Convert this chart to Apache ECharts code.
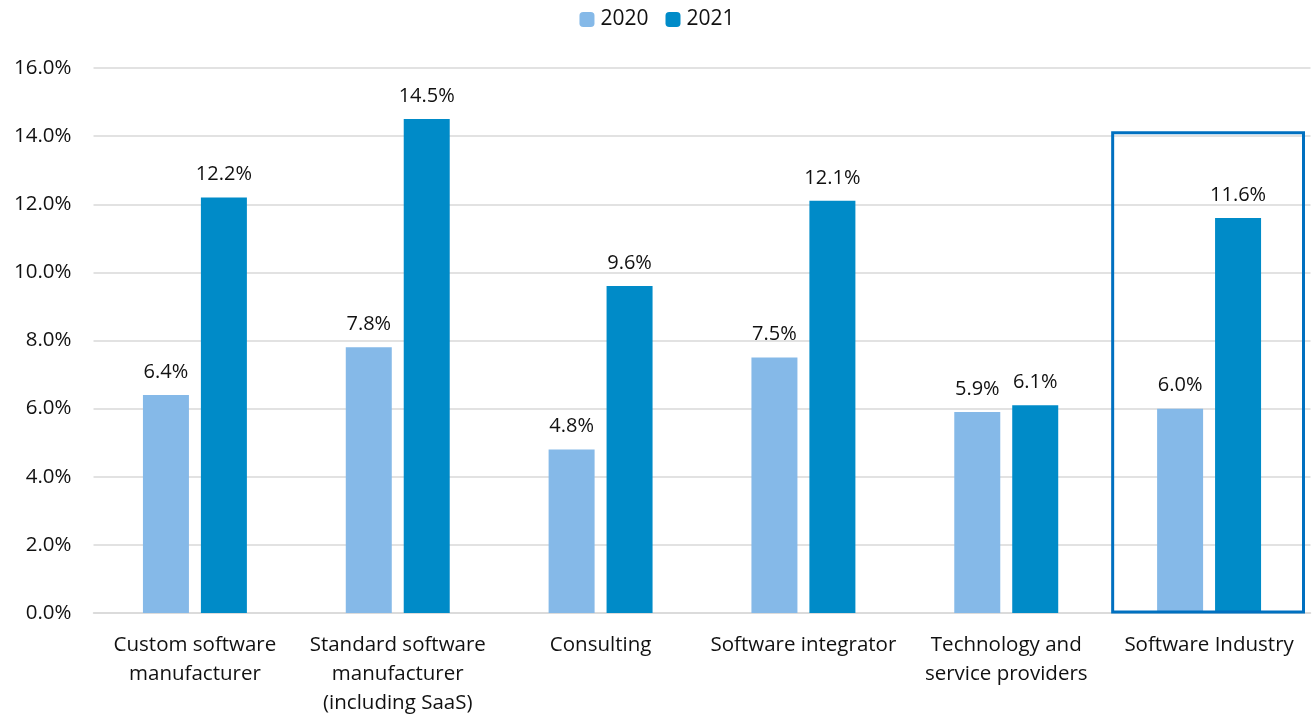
<!DOCTYPE html>
<html>
<head>
<meta charset="utf-8">
<script src="https://cdn.jsdelivr.net/npm/echarts@6/dist/echarts.min.js"></script>
<style>html,body{margin:0;padding:0;background:#fff}#c{width:1314px;height:715px}</style>
</head>
<body>
<div id="c"></div>
<script>
const categories = ['Custom software\nmanufacturer', 'Standard software\nmanufacturer\n(including SaaS)', 'Consulting', 'Software integrator', 'Technology and\nservice providers', 'Software Industry'];
const values2020 = [6.4, 7.8, 4.8, 7.5, 5.9, 6.0];
const values2021 = [12.2, 14.5, 9.6, 12.1, 6.1, 11.6];
const highlight = [[5, 14.1]];

const FONT = 'Open Sans';
const chart = echarts.init(document.getElementById('c'));
const lbl = {
  show: true, position: 'top', distance: 13,
  fontFamily: FONT, fontSize: 20, color: '#111',
  formatter: p => p.value.toFixed(1) + '%'
};
chart.setOption({
  animation: false,
  textStyle: { fontFamily: FONT },
  legend: {
    data: ['2020', '2021'], top: 4, left: 'center',
    itemWidth: 15, itemHeight: 15, itemGap: 17,
    textStyle: { fontFamily: FONT, fontSize: 21, color: '#111', padding: [0, 0, 0, 1] }
  },
  grid: { left: 93.5, right: 3.5, top: 68, bottom: 102, outerBoundsMode: 'none', containLabel: false },
  xAxis: {
    type: 'category', data: categories,
    axisLine: { lineStyle: { color: '#d9d9d9', width: 1.5 } },
    axisTick: { show: false },
    axisLabel: { fontFamily: FONT, fontSize: 20.5, color: '#111', lineHeight: 29, margin: 18, interval: 0 }
  },
  yAxis: {
    type: 'value', min: 0, max: 16, interval: 2,
    axisLabel: { fontFamily: FONT, fontSize: 20.5, color: '#111', margin: 22, formatter: v => v.toFixed(1) + '%' },
    splitLine: { lineStyle: { color: '#d9d9d9', width: 1.5 } },
    axisLine: { show: false }, axisTick: { show: false }
  },
  series: [
    { name: '2020', type: 'bar', data: values2020, barWidth: 46, barGap: '26%', itemStyle: { color: '#85B9E8' }, label: lbl },
    { name: '2021', type: 'bar', data: values2021, barWidth: 46, itemStyle: { color: '#008BC8' }, label: lbl },
    {
      type: 'custom', data: highlight, z: 10, silent: true,
      renderItem: (params, api) => {
        const top = api.coord([api.value(0), api.value(1)]);
        const bottom = api.coord([api.value(0), 0]);
        const band = api.size([1, 0])[0];
        const x0 = top[0] - band / 2 + 5;
        return {
          type: 'rect',
          shape: { x: x0, y: top[1], width: band - 12, height: bottom[1] - top[1] - 1 },
          style: { fill: 'none', stroke: '#0070C0', lineWidth: 3 }
        };
      }
    }
  ]
});
</script>
</body>
</html>
